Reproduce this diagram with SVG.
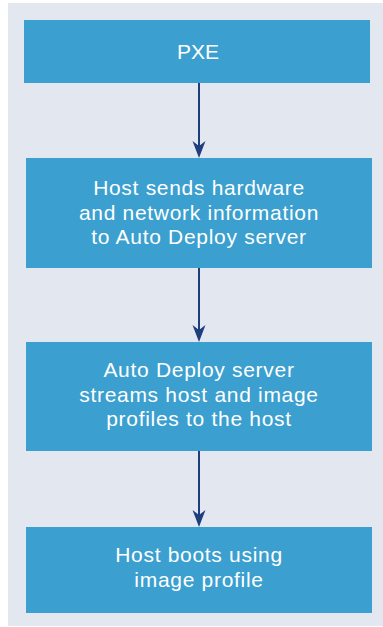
<svg xmlns="http://www.w3.org/2000/svg" width="383" height="627" viewBox="0 0 383 627">
<defs>
<style>
.box{fill:#3B9FCF}
.t{font-family:"Liberation Sans",Arial,sans-serif;font-size:21px;letter-spacing:0.7px;fill:#FFFFFF;text-anchor:middle}
.c{stroke:#1F3E7E;stroke-width:2;fill:none}
.h{fill:#1F3E7E}
</style>
</defs>
<rect x="8" y="3" width="375" height="623" fill="#E3E7F0"/>
<g id="connectors">
<line class="c" x1="199" y1="83" x2="199" y2="148"/>
<path class="h" d="M199,158 L192.5,141 L199,146 L205.5,141 Z"/>
<line class="c" x1="199" y1="268" x2="199" y2="332"/>
<path class="h" d="M199,342 L192.5,325 L199,330 L205.5,325 Z"/>
<line class="c" x1="199" y1="451" x2="199" y2="517"/>
<path class="h" d="M199,527 L192.5,510 L199,515 L205.5,510 Z"/>
</g>
<g id="node-pxe">
<rect class="box" x="24" y="20" width="346" height="63"/>
<text class="t" x="198" y="59" style="letter-spacing:0">PXE</text>
</g>
<g id="node-host-sends">
<rect class="box" x="26" y="158" width="346" height="110"/>
<text class="t" x="199" y="195">Host sends hardware</text>
<text class="t" x="199" y="219.5">and network information</text>
<text class="t" x="199" y="244">to Auto Deploy server</text>
</g>
<g id="node-auto-deploy">
<rect class="box" x="26" y="342" width="346" height="109"/>
<text class="t" x="199" y="377">Auto Deploy server</text>
<text class="t" x="199" y="401.5">streams host and image</text>
<text class="t" x="199" y="426">profiles to the host</text>
</g>
<g id="node-host-boots">
<rect class="box" x="26" y="527" width="346" height="86"/>
<text class="t" x="199" y="562">Host boots using</text>
<text class="t" x="199" y="586.5">image profile</text>
</g>
</svg>
